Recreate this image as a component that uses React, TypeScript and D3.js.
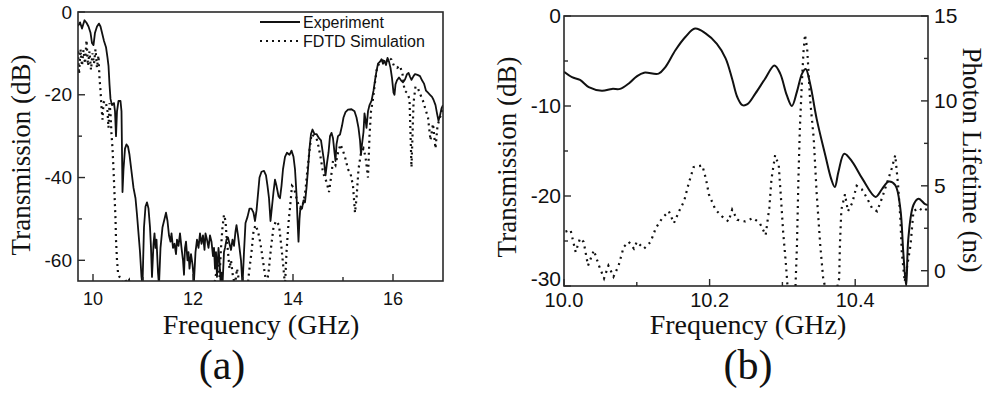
import * as d3 from 'd3';

type Pt = [number, number];

// (a) measured vs simulated transmission, [GHz, dB]
const expA: Pt[] = [
  [9.70,-3.4],[9.74,-2.5],[9.78,-4.0],[9.83,-2.0],[9.87,-2.6],[9.91,-3.5],[9.95,-5.0],[9.98,-7.5],[10.01,-8.0],[10.04,-5.0],
  [10.08,-3.5],[10.12,-2.8],[10.15,-3.5],[10.19,-5.5],[10.22,-7.0],[10.26,-8.5],[10.29,-11],[10.31,-13],[10.33,-17.5],[10.35,-21],
  [10.38,-22.5],[10.42,-22],[10.44,-24],[10.46,-30],[10.48,-24],[10.51,-21.5],[10.55,-21.5],[10.57,-24],[10.59,-43.5],[10.61,-38],
  [10.64,-33],[10.67,-32],[10.70,-32.5],[10.73,-34.5],[10.77,-38.5],[10.81,-42.5],[10.85,-45],[10.88,-49],[10.91,-53.5],[10.94,-58],
  [10.97,-64],[10.99,-66],[11.02,-52],[11.05,-47],[11.08,-46],[11.11,-47.5],[11.14,-52],[11.16,-57],[11.18,-64],[11.21,-56],
  [11.23,-53.5],[11.25,-57],[11.27,-55],[11.30,-63],[11.32,-66],[11.35,-57],[11.39,-52],[11.43,-50],[11.46,-48.5],[11.49,-50.5],
  [11.52,-54],[11.55,-55.5],[11.57,-53.5],[11.60,-57],[11.63,-56],[11.66,-58.5],[11.68,-55],[11.71,-56.5],[11.74,-53.5],[11.77,-57],
  [11.80,-60],[11.82,-63.5],[11.84,-57],[11.86,-55.5],[11.89,-60],[11.91,-58],[11.93,-62],[11.96,-58.5],[11.99,-61],[12.02,-65],
  [12.05,-58],[12.08,-55],[12.11,-57],[12.14,-53.5],[12.17,-56],[12.20,-54],[12.23,-57.5],[12.25,-53.5],[12.28,-55],[12.31,-57],
  [12.34,-54],[12.37,-55.5],[12.40,-59],[12.42,-57],[12.44,-62],[12.46,-58],[12.48,-64],[12.51,-57],[12.53,-60],[12.55,-65],
  [12.57,-63],[12.59,-66],[12.62,-58],[12.64,-57],[12.67,-55],[12.70,-54.5],[12.73,-56],[12.76,-57.5],[12.79,-55],[12.82,-56.5],
  [12.85,-53],[12.87,-51.5],[12.90,-54],[12.93,-57],[12.96,-60],[12.99,-66],[13.02,-58],[13.05,-51],[13.09,-49.5],[13.13,-47.5],
  [13.17,-47.5],[13.21,-48.5],[13.24,-50.5],[13.27,-48],[13.30,-44],[13.33,-40],[13.37,-38.6],[13.42,-38.4],[13.46,-39.5],[13.49,-42],
  [13.52,-45],[13.55,-50.5],[13.58,-47],[13.61,-43.5],[13.64,-40.5],[13.67,-42],[13.71,-44.5],[13.74,-45],[13.77,-42],[13.80,-38],
  [13.84,-35],[13.88,-34],[13.93,-34.5],[13.97,-33.5],[14.01,-35],[14.04,-38],[14.07,-44],[14.09,-50],[14.11,-55.5],[14.13,-50],
  [14.15,-47],[14.18,-47.5],[14.21,-45.5],[14.24,-46],[14.27,-42.5],[14.30,-38],[14.33,-33],[14.36,-29.5],[14.39,-28.4],[14.43,-29.5],
  [14.47,-29.5],[14.52,-30.5],[14.56,-31],[14.59,-33.5],[14.62,-36],[14.65,-39.5],[14.68,-36.5],[14.71,-34],[14.74,-30],[14.77,-29.2],
  [14.80,-30.5],[14.83,-34],[14.85,-36],[14.87,-32],[14.90,-30],[14.94,-29.6],[14.98,-27.5],[15.01,-25.5],[15.05,-24.2],[15.10,-23.6],
  [15.17,-23.5],[15.23,-24],[15.27,-25.5],[15.31,-28],[15.34,-31],[15.36,-34.5],[15.38,-32],[15.41,-29],[15.43,-24.5],[15.45,-26],
  [15.47,-28],[15.50,-24],[15.53,-22.5],[15.57,-21.5],[15.61,-19],[15.64,-16.5],[15.67,-14.3],[15.70,-12.5],[15.74,-12],[15.77,-11.4],
  [15.80,-12.5],[15.83,-11.8],[15.86,-12.8],[15.89,-11.1],[15.92,-12],[15.95,-13.5],[15.98,-16],[16.01,-19.5],[16.03,-20],[16.05,-17.5],
  [16.08,-16.5],[16.12,-15.8],[16.16,-16.5],[16.20,-17],[16.24,-16.3],[16.28,-15],[16.31,-14.7],[16.34,-15.6],[16.37,-16.4],[16.41,-15.5],
  [16.44,-15],[16.49,-15.2],[16.54,-15.5],[16.58,-16.5],[16.62,-17.3],[16.66,-19],[16.70,-19.5],[16.74,-20],[16.78,-20.5],[16.81,-21.2],
  [16.85,-22.5],[16.88,-24.5],[16.91,-26.3],[16.94,-25],[16.97,-23.3],[17.0,-22.5],
];

const simA: Pt[] = [
  [9.70,-9.5],[9.72,-15],[9.75,-9],[9.78,-13],[9.81,-9.2],[9.84,-12.5],[9.87,-6.8],[9.90,-13],[9.93,-9.5],[9.96,-14],
  [9.99,-10],[10.02,-12.5],[10.05,-9],[10.08,-13.5],[10.11,-10.5],[10.13,-16],[10.15,-19],[10.17,-23],[10.19,-26],[10.21,-22],
  [10.23,-21.5],[10.26,-22],[10.29,-24],[10.31,-28],[10.33,-22],[10.35,-24.5],[10.37,-29.5],[10.39,-33],[10.41,-38],[10.43,-44],
  [10.45,-50],[10.46,-55],[10.48,-60],[10.50,-63],[10.53,-64],[10.57,-64.5],[10.60,-66],[10.64,-64.5],[10.68,-65.5],[10.72,-64.8],
  [10.76,-68],[12.40,-68],[12.45,-64],[12.50,-61],[12.53,-64],[12.56,-57],[12.59,-52],[12.62,-49],[12.65,-50.5],[12.67,-54],
  [12.70,-58],[12.73,-62],[12.76,-60],[12.80,-64],[12.84,-66],[12.88,-62],[12.92,-65],[12.96,-68],[13.08,-68],[13.12,-63],
  [13.17,-58],[13.21,-53],[13.25,-51.5],[13.30,-53],[13.35,-56],[13.41,-61],[13.47,-66],[13.51,-63],[13.56,-57],[13.61,-52],
  [13.66,-50.5],[13.72,-51.5],[13.77,-57],[13.81,-62],[13.84,-66],[13.87,-58],[13.91,-51],[13.95,-46],[13.98,-42],[14.02,-42.5],
  [14.07,-45],[14.12,-47],[14.16,-47.5],[14.21,-46],[14.25,-43],[14.29,-38],[14.33,-33.5],[14.37,-29.5],[14.42,-30],[14.47,-30.5],
  [14.51,-32.5],[14.55,-35],[14.59,-38],[14.63,-40],[14.67,-41],[14.72,-43.5],[14.76,-40],[14.80,-36],[14.85,-37],[14.90,-34],
  [14.95,-32],[15.00,-33.5],[15.05,-35.5],[15.10,-38],[15.15,-39],[15.20,-42],[15.24,-48.5],[15.27,-45],[15.31,-38],[15.36,-34],
  [15.41,-33],[15.45,-35],[15.50,-40],[15.53,-30],[15.56,-24],[15.60,-21],[15.64,-17],[15.68,-13.5],[15.72,-12.5],[15.77,-12],
  [15.82,-11.5],[15.87,-12],[15.92,-11],[15.97,-11.5],[16.02,-13],[16.08,-13.5],[16.14,-13],[16.19,-15],[16.23,-19],[16.28,-19.5],
  [16.33,-21],[16.37,-37.5],[16.41,-22],[16.45,-18],[16.50,-18.5],[16.55,-20],[16.60,-21.5],[16.65,-23.5],[16.70,-25.5],[16.75,-31],
  [16.80,-27],[16.85,-33],[16.89,-27.5],[16.94,-25.5],[17.0,-23],
];

// (b) transmission [GHz, dB] and photon lifetime [GHz, ns]
const transB: Pt[] = [
  [10.0,-6.2],[10.011,-6.8],[10.022,-7.1],[10.034,-7.9],[10.052,-8.3],[10.066,-8.1],[10.077,-8.1],[10.089,-7.5],[10.1,-6.7],[10.11,-6.3],
  [10.13,-6.4],[10.139,-5.7],[10.153,-3.8],[10.167,-2.3],[10.18,-1.4],[10.194,-1.9],[10.21,-3.1],[10.222,-4.7],[10.231,-7],[10.238,-9.0],
  [10.245,-9.9],[10.252,-9.8],[10.263,-8.6],[10.276,-7],[10.289,-5.5],[10.297,-6.4],[10.306,-8.8],[10.313,-10],[10.32,-8.4],[10.327,-6.4],
  [10.332,-5.9],[10.338,-7.5],[10.347,-11.4],[10.359,-15.5],[10.367,-18.1],[10.372,-19],[10.377,-17.3],[10.385,-15.3],[10.396,-16.2],[10.41,-18.1],
  [10.428,-20.1],[10.437,-19.2],[10.446,-18.4],[10.455,-18.8],[10.462,-21.4],[10.466,-26.2],[10.47,-30],[10.473,-24.7],[10.48,-21],[10.487,-20.3],
  [10.496,-20.9],[10.5,-21],
];

const lifeB: Pt[] = [
  [10.002,2.3],[10.009,2.4],[10.016,1.1],[10.022,1.9],[10.027,1.7],[10.033,0.3],[10.041,1.2],[10.048,0.3],[10.055,-0.45],[10.061,0.3],
  [10.068,-0.35],[10.075,0.3],[10.082,1.4],[10.089,1.7],[10.096,1.3],[10.1,1.7],[10.11,1.3],[10.119,1.7],[10.126,2.5],[10.135,3.1],
  [10.144,3.5],[10.151,2.8],[10.158,3.5],[10.165,4.1],[10.171,5.1],[10.178,6.1],[10.19,6.2],[10.195,5.4],[10.199,4.5],[10.208,3.6],
  [10.217,3.2],[10.226,2.9],[10.231,3.6],[10.238,3.0],[10.249,2.9],[10.26,3.1],[10.269,2.8],[10.277,2.1],[10.282,3.7],[10.285,5.4],
  [10.29,6.8],[10.295,6.2],[10.298,4.3],[10.301,2.3],[10.305,0.3],[10.307,-0.9],[10.312,-2.5],[10.318,-0.9],[10.32,1.5],[10.322,5.4],
  [10.324,8.4],[10.327,11.3],[10.329,12.9],[10.331,13.9],[10.334,13.1],[10.338,10.1],[10.343,7.8],[10.347,4.6],[10.352,1.5],[10.356,-0.45],
  [10.367,-2.5],[10.378,-0.45],[10.379,1.5],[10.381,3.6],[10.386,4.5],[10.39,3.5],[10.396,4.0],[10.402,5.0],[10.409,4.8],[10.416,4.3],
  [10.423,3.7],[10.43,3.5],[10.437,4.3],[10.444,5.2],[10.45,6.0],[10.455,6.8],[10.459,5.0],[10.462,3.1],[10.464,1.1],[10.468,-0.65],
  [10.476,1.5],[10.48,3.5],[10.487,3.7],[10.494,3.5],[10.5,3.7],
];

const xTicksA = [10, 12, 14, 16];
const xMinorA = [11, 13, 15];
const yTicksA = [0, -20, -40, -60];
const yMinorA = [-10, -30, -50];
const xTicksB = [10.0, 10.2, 10.4];
const xMinorB = [10.1, 10.3];
const yTicksB = [0, -10, -20, -30];
const yMinorB = [-5, -15, -25];
const y2TicksB = [0, 5, 10, 15];
const y2MinorB = [2.5, 7.5, 12.5];
const legendA = ['Experiment', 'FDTD Simulation'];

const SANS = '"Liberation Sans", Arial, sans-serif';
const SERIF = '"Liberation Serif", "Times New Roman", serif';
const INK = '#111';
const FRAME = '#2a2a2a';

const A = { l: 78, t: 12, r: 443, b: 281 };
const B = { l: 564, t: 16, r: 928, b: 286 };

export default function App() {
  const xA = d3.scaleLinear().domain([9.7, 17]).range([A.l, A.r]);
  const yA = d3.scaleLinear().domain([-65, 0]).range([A.b, A.t]);
  const xB = d3.scaleLinear().domain([10, 10.5]).range([B.l, B.r]);
  const yB = d3.scaleLinear().domain([-30, 0]).range([B.b, B.t]);
  const y2B = d3.scaleLinear().domain([-0.9, 15]).range([B.b, B.t]);

  const lineA = d3.line<Pt>().x(d => xA(d[0])).y(d => yA(d[1]));
  const lineB = d3.line<Pt>().x(d => xB(d[0])).y(d => yB(d[1])).curve(d3.curveCatmullRom.alpha(0.5));
  const lineB2 = d3.line<Pt>().x(d => xB(d[0])).y(d => y2B(d[1]));

  const MAJ = 7, MIN = 4;

  return (
    <svg width={991} height={413} style={{ position: 'absolute', left: 0, top: 0, background: '#fff' }}>
      <defs>
        <clipPath id="clipA"><rect x={A.l} y={A.t} width={A.r - A.l} height={A.b - A.t} /></clipPath>
        <clipPath id="clipB"><rect x={B.l} y={B.t} width={B.r - B.l} height={B.b - B.t} /></clipPath>
      </defs>
      <rect width={991} height={413} fill="#fff" />

      {/* ---------- panel (a) ---------- */}
      <g clipPath="url(#clipA)">
        <path d={lineA(simA) ?? ''} fill="none" stroke={INK} strokeWidth={2.2} strokeDasharray="2 4" />
        <path d={lineA(expA) ?? ''} fill="none" stroke={INK} strokeWidth={1.8} strokeLinejoin="round" />
      </g>
      <rect x={A.l} y={A.t} width={A.r - A.l} height={A.b - A.t} fill="none" stroke={FRAME} strokeWidth={1.6} />
      {xTicksA.map(v => (
        <g key={'xa' + v}>
          <line x1={xA(v)} x2={xA(v)} y1={A.b} y2={A.b - MAJ} stroke={FRAME} strokeWidth={1.4} />
          <text x={xA(v)} y={305} textAnchor="middle" fontFamily={SANS} fontSize={18} fill={INK}>{v}</text>
        </g>
      ))}
      {xMinorA.map(v => (
        <line key={'xam' + v} x1={xA(v)} x2={xA(v)} y1={A.b} y2={A.b - MIN} stroke={FRAME} strokeWidth={1.4} />
      ))}
      {yTicksA.map(v => (
        <g key={'ya' + v}>
          <line x1={A.l} x2={A.l + MAJ} y1={yA(v)} y2={yA(v)} stroke={FRAME} strokeWidth={1.4} />
          <text x={72} y={yA(v)} dy="0.35em" textAnchor="end" fontFamily={SANS} fontSize={19} fill={INK}>{v}</text>
        </g>
      ))}
      {yMinorA.map(v => (
        <line key={'yam' + v} x1={A.l} x2={A.l + MIN} y1={yA(v)} y2={yA(v)} stroke={FRAME} strokeWidth={1.4} />
      ))}
      {/* legend */}
      <line x1={260} x2={300} y1={22} y2={22} stroke={INK} strokeWidth={1.8} />
      <text x={303} y={28} fontFamily={SANS} fontSize={16} fill={INK}>{legendA[0]}</text>
      <line x1={260} x2={300} y1={41} y2={41} stroke={INK} strokeWidth={2.2} strokeDasharray="2 4" />
      <text x={303} y={47} fontFamily={SANS} fontSize={16} fill={INK}>{legendA[1]}</text>

      <text transform="translate(30,155) rotate(-90)" textAnchor="middle" fontFamily={SERIF} fontSize={27} fill={INK}>Transmission (dB)</text>
      <text x={261} y={334} textAnchor="middle" fontFamily={SERIF} fontSize={28} fill={INK}>Frequency (GHz)</text>
      <text x={222} y={379} textAnchor="middle" fontFamily={SERIF} fontSize={42} fill={INK}>(a)</text>

      {/* ---------- panel (b) ---------- */}
      <g clipPath="url(#clipB)">
        <path d={lineB2(lifeB) ?? ''} fill="none" stroke={INK} strokeWidth={2.2} strokeDasharray="2 4.5" />
        <path d={lineB(transB) ?? ''} fill="none" stroke={INK} strokeWidth={2} strokeLinejoin="round" />
      </g>
      <rect x={B.l} y={B.t} width={B.r - B.l} height={B.b - B.t} fill="none" stroke={FRAME} strokeWidth={1.6} />
      {xTicksB.map(v => (
        <g key={'xb' + v}>
          <line x1={xB(v)} x2={xB(v)} y1={B.b} y2={B.b - MAJ} stroke={FRAME} strokeWidth={1.4} />
          <text x={xB(v)} y={307} textAnchor="middle" fontFamily={SANS} fontSize={20} fill={INK}>{v.toFixed(1)}</text>
        </g>
      ))}
      {xMinorB.map(v => (
        <line key={'xbm' + v} x1={xB(v)} x2={xB(v)} y1={B.b} y2={B.b - MIN} stroke={FRAME} strokeWidth={1.4} />
      ))}
      {yTicksB.map(v => (
        <g key={'yb' + v}>
          <line x1={B.l} x2={B.l + MAJ} y1={yB(v)} y2={yB(v)} stroke={FRAME} strokeWidth={1.4} />
          <text x={561} y={v === -30 ? yB(v) - 7 : yB(v)} dy="0.35em" textAnchor="end" fontFamily={SANS} fontSize={21} fill={INK}>{v}</text>
        </g>
      ))}
      {yMinorB.map(v => (
        <line key={'ybm' + v} x1={B.l} x2={B.l + MIN} y1={yB(v)} y2={yB(v)} stroke={FRAME} strokeWidth={1.4} />
      ))}
      {y2TicksB.map(v => (
        <g key={'y2b' + v}>
          <line x1={B.r} x2={B.r - MAJ} y1={y2B(v)} y2={y2B(v)} stroke={FRAME} strokeWidth={1.4} />
          <text x={934} y={y2B(v)} dy="0.35em" textAnchor="start" fontFamily={SANS} fontSize={21} fill={INK}>{v}</text>
        </g>
      ))}
      {y2MinorB.map(v => (
        <line key={'y2bm' + v} x1={B.r} x2={B.r - MIN} y1={y2B(v)} y2={y2B(v)} stroke={FRAME} strokeWidth={1.4} />
      ))}

      <text transform="translate(516,157) rotate(-90)" textAnchor="middle" fontFamily={SERIF} fontSize={27} fill={INK}>Transmission (dB)</text>
      <text transform="translate(963,160) rotate(90)" textAnchor="middle" fontFamily={SERIF} fontSize={27} fill={INK}>Photon Lifetime (ns)</text>
      <text x={748} y={334} textAnchor="middle" fontFamily={SERIF} fontSize={28} fill={INK}>Frequency (GHz)</text>
      <text x={748} y={379} textAnchor="middle" fontFamily={SERIF} fontSize={42} fill={INK}>(b)</text>
    </svg>
  );
}
